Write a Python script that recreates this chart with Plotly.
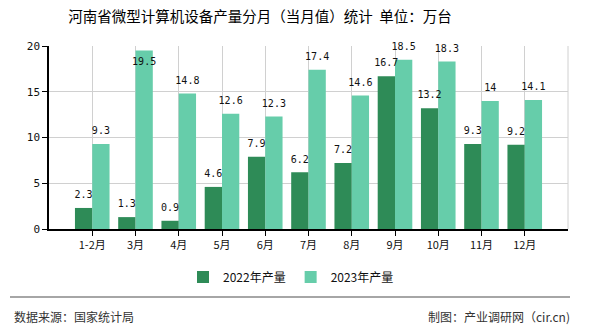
import plotly.graph_objects as go

categories = ["1-2月", "3月", "4月", "5月", "6月", "7月", "8月", "9月", "10月", "11月", "12月"]
values_2022 = [2.3, 1.3, 0.9, 4.6, 7.9, 6.2, 7.2, 16.7, 13.2, 9.3, 9.2]
values_2023 = [9.3, 19.5, 14.8, 12.6, 12.3, 17.4, 14.6, 18.5, 18.3, 14, 14.1]
series_names = ["2022年产量", "2023年产量"]
colors = ["#2E8B57", "#66CDAA"]
title_text = "河南省微型计算机设备产量分月（当月值）统计  单位：万台"
source_text = "数据来源：国家统计局"
credit_text = "制图：产业调研网（cir.cn)"

idx = list(range(len(categories)))
bw = 0.4
x22 = [i - bw / 2 for i in idx]
x23 = [i + bw / 2 for i in idx]

def fmt(v):
    return ("%g" % v)

fig = go.Figure()
fig.add_trace(go.Bar(x=x22, y=values_2022, width=bw, name=series_names[0],
                     marker=dict(color=colors[0], line=dict(width=0))))
fig.add_trace(go.Bar(x=x23, y=values_2023, width=bw, name=series_names[1],
                     marker=dict(color=colors[1], line=dict(width=0))))

lab_font = dict(family="DejaVu Sans Mono", size=10, color="#111")
inv = dict(size=10, opacity=0)
fig.add_trace(go.Scatter(x=x22, y=values_2022, mode="markers+text", text=[fmt(v) for v in values_2022],
                         textposition="top center", textfont=lab_font, marker=inv, showlegend=False,
                         hoverinfo="skip", cliponaxis=False))
pos23 = ["bottom center" if v > 19 else "top center" for v in values_2023]
fig.add_trace(go.Scatter(x=x23, y=values_2023, mode="markers+text", text=[fmt(v) for v in values_2023],
                         textposition=pos23, textfont=lab_font, marker=inv, showlegend=False,
                         hoverinfo="skip", cliponaxis=False))

fig.update_layout(
    width=590, height=330,
    margin=dict(l=49, r=22, t=46, b=101),
    paper_bgcolor="white", plot_bgcolor="white",
    barmode="overlay",
    title=dict(text=title_text, x=260 / 590, xanchor="center", y=1 - 17 / 330, yanchor="middle",
               font=dict(family="Noto Sans CJK SC", size=14.5, color="#000")),
    legend=dict(orientation="h", x=(291 - 49) / 519, xanchor="center", y=-(277 - 229) / 183, yanchor="middle",
                font=dict(family="Noto Sans CJK SC", size=12, color="#111"),
                itemwidth=30, traceorder="normal"),
    showlegend=True,
)
fig.update_xaxes(range=[-1, len(categories)], tickvals=idx, ticktext=categories,
                 showgrid=True, gridcolor="#d0d0d0", gridwidth=1,
                 showline=True, linecolor="#000", linewidth=1.5,
                 ticks="outside", ticklen=5, tickcolor="#000",
                 tickfont=dict(family="Noto Sans CJK SC", size=11, color="#111"),
                 zeroline=False, mirror=False, fixedrange=True)
fig.update_yaxes(range=[0, 20], tickvals=[0, 5, 10, 15, 20],
                 showgrid=True, gridcolor="#d0d0d0", gridwidth=1,
                 showline=True, linecolor="#000", linewidth=1.5,
                 ticks="outside", ticklen=5, tickcolor="#000",
                 tickfont=dict(family="DejaVu Sans Mono", size=11, color="#111"),
                 zeroline=False, fixedrange=True)

# right border gridline
fig.add_shape(type="line", xref="paper", yref="paper", x0=1, x1=1, y0=0, y1=1,
              line=dict(color="#d0d0d0", width=1))
# footer line
fig.add_shape(type="line", xref="paper", yref="paper",
              x0=(10 - 49) / 519, x1=(570 - 49) / 519,
              y0=-(297 - 229) / 183, y1=-(297 - 229) / 183,
              line=dict(color="#888", width=1.5))
fig.add_annotation(text=source_text, xref="paper", yref="paper",
                   x=(12 - 49) / 519, xanchor="left", y=-(316 - 229) / 183, yanchor="middle",
                   showarrow=False, font=dict(family="Noto Sans CJK SC", size=12, color="#333"))
fig.add_annotation(text=credit_text, xref="paper", yref="paper",
                   x=(572 - 49) / 519, xanchor="right", y=-(316 - 229) / 183, yanchor="middle",
                   showarrow=False, font=dict(family="Noto Sans CJK SC", size=12, color="#333"))

fig.write_html("out.html", config={"displayModeBar": False})
